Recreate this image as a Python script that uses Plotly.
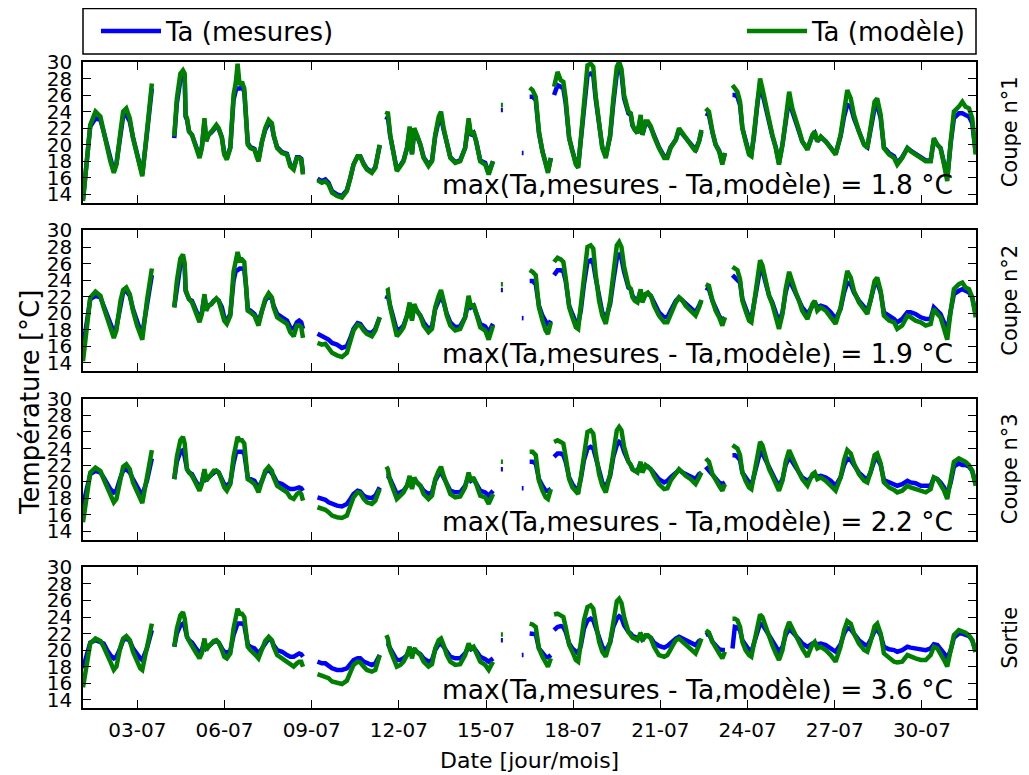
import pandas as pd
import plotly.graph_objects as go
from plotly.subplots import make_subplots

# ---------------- data ----------------
# time in days since 01-07 00:00 ; one sub-list per continuous data segment
jours = [
    [0.13, 0.29, 0.38, 0.56, 0.73, 0.84, 0.96, 1.07, 1.19, 1.28, 1.42, 1.51, 1.62, 1.74, 1.85, 1.99, 2.10, 2.17, 2.33, 2.50],
    [3.27, 3.36, 3.48, 3.57, 3.63, 3.66, 3.71, 3.78, 3.88, 4.00, 4.14, 4.22, 4.31, 4.37, 4.45, 4.55, 4.63, 4.72, 4.80, 4.91,
     4.99, 5.08, 5.20, 5.31, 5.39, 5.45, 5.52, 5.60, 5.68, 5.74, 5.80, 5.89, 6.03, 6.12, 6.17, 6.29, 6.40, 6.52, 6.63, 6.69,
     6.81, 6.98, 7.15, 7.26, 7.38, 7.49, 7.57, 7.64, 7.70],
    [8.20, 8.35, 8.47, 8.58, 8.70, 8.87, 9.04, 9.21, 9.33, 9.44, 9.58, 9.67, 9.79, 9.90, 10.07, 10.19, 10.34],
    [10.57, 10.62, 10.70, 10.82, 10.93, 11.05, 11.16, 11.28, 11.37, 11.45, 11.53, 11.62, 11.74, 11.85, 12.02, 12.14, 12.25,
     12.37, 12.45, 12.54, 12.65, 12.77, 12.94, 13.11, 13.28, 13.40, 13.48, 13.57, 13.66, 13.80, 13.97, 14.09, 14.24],
    [14.51, 14.58],
    [15.23, 15.29],
    [15.50, 15.60, 15.71, 15.82, 15.94, 16.05, 16.13, 16.23],
    [16.34, 16.46, 16.57, 16.66, 16.74, 16.86, 16.97, 17.09, 17.17, 17.26, 17.37, 17.49, 17.60, 17.69, 17.77, 17.89, 18.00,
     18.12, 18.27, 18.38, 18.50, 18.58, 18.66, 18.75, 18.84, 18.90, 18.98, 19.04, 19.12, 19.21, 19.32, 19.38, 19.49, 19.57,
     19.67, 19.78, 19.95, 20.13, 20.24, 20.35, 20.53, 20.64, 20.76, 20.87, 21.04, 21.21, 21.33, 21.41],
    [21.56, 21.67, 21.79, 21.90, 22.02, 22.13, 22.22],
    [22.48, 22.56, 22.65, 22.74, 22.82, 22.93, 23.05, 23.13, 23.22, 23.34, 23.43, 23.51, 23.62, 23.74, 23.85, 23.97, 24.08,
     24.20, 24.31, 24.43, 24.54, 24.66, 24.77, 24.88, 25.06, 25.23, 25.31, 25.40, 25.52, 25.69, 25.86, 26.03, 26.20, 26.32,
     26.43, 26.55, 26.66, 26.83, 27.01, 27.12, 27.23, 27.37, 27.46, 27.58, 27.69, 27.87, 28.04, 28.15, 28.32, 28.50, 28.61,
     28.78, 28.96, 29.13, 29.30, 29.41, 29.53, 29.64, 29.76, 29.87, 29.99, 30.10, 30.27, 30.39, 30.50, 30.62, 30.73, 30.85],
]

# ----- Coupe n°1 -----
mesures_c1 = [
    [13.4, 18.8, 22.2, 23.2, 23.0, 21.6, 19.8, 18.2, 16.8, 17.7, 21.4, 23.4, 23.6, 22.8, 20.9, 19.0, 17.2, 16.4, 21.3, 26.8],
    [20.8, 25.0, 27.8, 28.2, 28.0, 23.4, 23.0, 21.6, 21.2, 20.1, 18.6, 19.7, 22.8, 20.5, 21.2, 21.5, 21.9, 22.2, 21.9, 20.9,
     19.0, 18.4, 19.7, 25.4, 26.6, 26.8, 26.8, 27.0, 26.4, 23.8, 20.2, 19.7, 19.5, 18.6, 18.2, 20.4, 21.8, 22.6, 22.3, 21.1,
     19.7, 19.1, 18.9, 17.6, 17.2, 18.5, 18.5, 18.3, 16.6],
    [15.9, 15.6, 15.8, 15.4, 14.4, 14.0, 13.8, 14.5, 16.0, 17.6, 18.6, 18.6, 17.7, 17.1, 16.7, 17.3, 19.9],
    [23.0, 23.4, 21.1, 18.9, 17.0, 17.5, 18.1, 19.6, 21.8, 18.9, 21.6, 21.1, 20.0, 18.5, 17.6, 18.1, 21.0, 22.9, 23.3, 21.8,
     20.0, 18.5, 17.9, 18.1, 19.6, 22.7, 21.1, 21.4, 20.4, 18.1, 17.8, 16.6, 18.0],
    [24.2, 24.2],
    [19.0, 19.0],
    [25.8, 25.8, 25.4, 21.4, 19.2, 17.7, 16.8, 18.4],
    [26.0, 27.2, 27.0, 26.8, 25.0, 20.8, 19.3, 17.8, 17.4, 20.3, 24.6, 28.4, 28.6, 28.4, 25.6, 22.0, 19.7, 18.6, 21.0, 25.0,
     28.6, 29.0, 28.6, 25.6, 24.6, 23.8, 23.6, 22.3, 21.8, 21.4, 23.2, 21.2, 22.6, 22.6, 22.1, 21.0, 19.7, 18.6, 18.6, 19.7,
     20.6, 21.8, 21.3, 20.8, 20.1, 19.4, 20.4, 21.6],
    [23.8, 23.6, 21.5, 20.0, 19.3, 17.8, 19.0],
    [26.0, 26.0, 25.8, 24.8, 22.0, 20.5, 19.0, 18.8, 21.0, 25.0, 27.2, 26.2, 24.4, 22.6, 21.1, 19.7, 17.8, 20.0, 23.0, 25.6,
     24.0, 22.9, 21.6, 20.4, 19.5, 21.1, 21.4, 20.4, 20.9, 20.4, 19.7, 18.9, 21.0, 23.4, 24.8, 24.6, 23.2, 21.5, 20.0, 19.7,
     21.8, 24.4, 24.8, 23.2, 19.7, 19.0, 18.6, 17.8, 18.5, 19.6, 19.3, 18.9, 18.5, 18.1, 18.1, 20.6, 20.0, 19.6, 17.8, 16.0,
     20.2, 23.2, 23.8, 23.8, 23.6, 23.4, 22.6, 19.0],
]
modele_c1 = [
    [13.2, 18.8, 22.4, 24.0, 23.4, 21.6, 19.6, 18.0, 16.6, 17.6, 21.6, 24.0, 24.4, 23.2, 20.8, 18.8, 17.0, 16.2, 21.6, 27.4],
    [21.0, 25.6, 28.6, 29.0, 28.6, 23.6, 23.2, 21.6, 21.2, 20.0, 18.4, 19.6, 23.2, 20.4, 21.2, 21.6, 22.0, 22.4, 22.0, 20.8,
     18.8, 18.2, 19.6, 26.0, 27.6, 29.8, 27.2, 27.6, 26.8, 24.0, 20.0, 19.6, 19.4, 18.4, 18.0, 20.4, 22.0, 23.0, 22.6, 21.2,
     19.6, 19.0, 18.8, 17.4, 17.0, 18.4, 18.4, 18.2, 16.4],
    [15.7, 15.4, 15.6, 15.2, 14.2, 13.8, 13.6, 14.4, 16.0, 17.6, 18.6, 18.6, 17.6, 17.0, 16.6, 17.2, 20.0],
    [23.6, 24.0, 21.2, 18.8, 16.8, 17.4, 18.0, 19.6, 22.2, 18.8, 22.0, 21.2, 20.0, 18.4, 17.4, 18.0, 21.2, 23.4, 24.0, 22.0,
     20.0, 18.4, 17.8, 18.0, 19.6, 23.2, 21.2, 21.6, 20.4, 18.0, 17.6, 16.4, 18.0],
    [24.8, 24.8],
    [None, None],
    [26.9, 26.6, 25.8, 21.6, 19.2, 17.6, 16.6, 18.4],
    [27.0, 28.8, 27.8, 27.6, 25.6, 20.8, 19.2, 17.6, 17.2, 20.4, 25.2, 29.6, 29.8, 29.4, 26.0, 22.0, 19.6, 18.4, 21.2, 25.6,
     29.4, 30.0, 29.2, 26.0, 24.8, 24.0, 23.8, 22.4, 21.8, 21.4, 23.6, 21.2, 22.8, 22.8, 22.2, 21.0, 19.6, 18.4, 18.4, 19.6,
     20.6, 22.0, 21.4, 20.8, 20.0, 19.2, 20.4, 21.8],
    [24.4, 24.0, 21.6, 20.0, 19.2, 17.6, 19.0],
    [27.2, 26.8, 26.4, 25.2, 22.0, 20.4, 18.8, 18.6, 21.2, 25.6, 28.0, 26.8, 24.8, 22.8, 21.2, 19.6, 17.6, 20.0, 23.6, 26.4,
     24.4, 23.2, 21.8, 20.4, 19.4, 21.2, 21.6, 20.4, 21.0, 20.4, 19.6, 18.8, 21.2, 24.0, 26.6, 25.6, 23.6, 21.6, 20.0, 19.6,
     22.0, 25.2, 25.6, 23.6, 19.6, 18.8, 18.4, 17.6, 18.4, 19.6, 19.2, 18.8, 18.4, 18.0, 18.0, 20.8, 20.0, 19.6, 17.6, 15.6,
     20.4, 24.0, 24.6, 25.2, 24.6, 24.4, 23.2, 18.8],
]

# ----- Coupe n°2 -----
mesures_c2 = [
    [15.8, 19.1, 21.7, 22.1, 21.9, 20.9, 19.7, 18.5, 17.7, 18.3, 21.3, 22.5, 22.7, 22.1, 20.5, 18.9, 17.9, 17.5, 21.1, 24.6],
    [20.7, 23.3, 25.8, 26.2, 25.6, 22.7, 22.3, 21.7, 21.5, 20.5, 19.3, 20.1, 22.1, 20.5, 20.9, 21.1, 21.5, 21.7, 21.5, 20.7,
     19.5, 19.1, 19.9, 23.9, 25.2, 25.2, 25.4, 25.4, 25.2, 23.3, 20.5, 20.3, 19.9, 19.3, 18.9, 20.3, 21.5, 22.1, 21.7, 20.9,
     19.9, 19.5, 19.1, 18.3, 18.1, 18.9, 19.1, 18.9, 18.1],
    [17.5, 17.2, 17.1, 16.8, 16.4, 16.2, 15.8, 16.0, 17.0, 18.1, 18.8, 18.7, 18.1, 17.7, 17.6, 18.1, 19.5],
    [21.7, 22.1, 20.9, 19.3, 17.9, 18.1, 18.5, 19.7, 20.9, 19.3, 20.7, 20.3, 19.7, 18.9, 18.1, 18.4, 20.5, 21.5, 21.9, 21.3,
     19.9, 18.9, 18.3, 18.4, 19.5, 21.5, 20.7, 20.9, 20.1, 18.7, 18.4, 17.7, 18.7],
    [22.8, 22.8],
    [19.4, 19.4],
    [23.9, 23.9, 23.5, 20.9, 19.7, 18.9, 18.5, 19.1],
    [24.6, 25.2, 25.2, 25.0, 23.9, 20.9, 19.9, 18.9, 18.7, 20.3, 23.5, 26.2, 26.4, 26.0, 24.3, 21.7, 20.1, 19.3, 21.1, 23.9,
     26.6, 27.0, 26.6, 25.0, 23.7, 23.1, 22.9, 22.1, 21.7, 21.5, 22.7, 21.5, 22.3, 22.3, 22.1, 21.3, 20.1, 19.5, 19.5, 20.3,
     21.5, 21.9, 21.5, 21.1, 20.7, 20.1, 20.9, 21.5],
    [23.1, 22.9, 21.5, 20.5, 19.7, 19.1, 19.5],
    [24.6, 24.3, 24.1, 23.7, 21.7, 20.7, 19.5, 19.3, 20.9, 23.5, 25.4, 25.2, 23.7, 22.1, 21.3, 20.1, 18.9, 20.1, 22.5, 24.1,
     23.3, 22.5, 21.7, 20.7, 19.9, 20.9, 21.3, 20.7, 20.9, 20.7, 20.1, 19.3, 20.5, 22.5, 23.7, 23.5, 22.5, 21.5, 20.7, 20.3,
     21.5, 23.5, 23.7, 22.5, 20.1, 19.7, 19.3, 18.9, 19.3, 20.1, 20.1, 19.9, 19.5, 19.3, 19.3, 20.7, 20.3, 19.9, 18.9, 17.9,
     20.3, 22.3, 22.7, 22.9, 22.7, 22.5, 21.9, 19.9],
]
modele_c2 = [
    [14.2, 19.1, 21.9, 22.6, 22.1, 20.7, 19.5, 18.1, 17.0, 17.9, 21.5, 22.8, 23.1, 22.3, 20.3, 18.5, 17.2, 16.8, 21.5, 25.4],
    [20.7, 23.9, 26.6, 27.1, 26.0, 22.9, 22.3, 21.7, 21.3, 20.3, 18.9, 19.9, 22.3, 20.3, 20.9, 21.1, 21.5, 21.8, 21.5, 20.3,
     19.1, 18.7, 19.7, 25.0, 26.2, 27.4, 26.4, 26.5, 26.2, 23.5, 20.3, 20.1, 19.7, 18.9, 18.5, 20.3, 21.7, 22.4, 21.9, 20.7,
     19.5, 19.1, 18.7, 17.7, 17.2, 18.5, 18.5, 18.3, 17.0],
    [16.4, 16.2, 16.3, 15.8, 15.2, 14.9, 14.7, 15.2, 16.6, 17.9, 18.6, 18.5, 17.9, 17.5, 17.2, 17.9, 19.5],
    [22.7, 22.8, 20.7, 18.9, 17.2, 17.7, 18.3, 19.7, 21.3, 19.1, 21.1, 20.3, 19.7, 18.5, 17.7, 18.1, 20.7, 22.1, 22.8, 21.5,
     19.7, 18.5, 17.9, 18.1, 19.5, 22.1, 20.7, 21.1, 20.1, 18.3, 17.9, 16.8, 18.5],
    [23.5, 23.5],
    [None, None],
    [25.2, 25.0, 24.6, 20.7, 19.1, 17.9, 17.5, 18.9],
    [26.2, 26.7, 26.5, 26.2, 24.3, 20.7, 19.5, 18.3, 18.1, 20.7, 24.3, 28.0, 28.2, 27.8, 24.8, 21.5, 19.7, 18.7, 21.5, 24.8,
     28.2, 28.6, 28.0, 25.6, 23.9, 23.3, 22.9, 21.9, 21.5, 21.3, 22.9, 21.3, 22.3, 22.5, 22.1, 20.9, 19.7, 18.9, 18.9, 19.9,
     21.3, 21.9, 21.5, 20.9, 20.3, 19.7, 20.7, 21.6],
    [23.5, 23.3, 21.5, 20.3, 19.5, 18.5, 19.5],
    [25.6, 25.4, 25.2, 24.1, 21.5, 20.3, 19.1, 18.9, 21.1, 24.3, 26.4, 25.8, 23.9, 22.1, 21.1, 19.7, 18.1, 19.9, 22.9, 25.0,
     23.7, 22.5, 21.5, 20.3, 19.3, 21.1, 21.5, 20.3, 20.7, 20.3, 19.5, 18.7, 20.7, 23.1, 25.1, 24.3, 22.7, 21.3, 20.3, 19.9,
     21.5, 23.9, 24.3, 22.7, 19.7, 19.1, 18.9, 18.1, 18.5, 19.7, 19.5, 19.1, 18.9, 18.5, 18.7, 20.5, 19.9, 19.5, 18.1, 16.8,
     20.3, 22.9, 23.5, 23.7, 23.1, 22.9, 21.9, 19.5],
]

# ----- Coupe n°3 -----
mesures_c3 = [
    [17.1, 19.3, 20.9, 21.3, 21.1, 20.5, 19.7, 19.1, 18.7, 18.9, 20.5, 21.3, 21.5, 21.1, 20.3, 19.3, 18.7, 18.4, 20.1, 22.8],
    [20.3, 22.4, 23.6, 23.8, 23.0, 22.0, 21.5, 21.1, 20.9, 20.1, 19.3, 19.9, 21.3, 20.3, 20.5, 20.9, 21.1, 21.3, 21.1, 20.3,
     19.7, 19.5, 19.9, 22.2, 23.4, 23.6, 23.6, 23.6, 23.4, 22.2, 20.5, 20.3, 20.1, 19.5, 19.3, 20.1, 21.1, 21.5, 21.1, 20.7,
     19.9, 19.7, 19.3, 19.1, 19.1, 19.3, 19.3, 19.2, 18.9],
    [18.1, 17.9, 17.8, 17.5, 17.3, 17.1, 17.0, 17.3, 17.9, 18.5, 18.9, 18.8, 18.3, 18.1, 18.0, 18.3, 19.3],
    [20.7, 20.7, 20.3, 19.3, 18.5, 18.7, 18.9, 19.5, 20.3, 19.3, 20.3, 19.9, 19.5, 18.9, 18.5, 18.7, 20.1, 20.9, 21.1, 20.5,
     19.7, 18.9, 18.7, 18.7, 19.5, 20.7, 20.1, 20.3, 19.8, 18.9, 18.7, 18.3, 18.9],
    [21.5, 21.5],
    [19.2, 19.2],
    [22.4, 22.4, 22.2, 20.3, 19.5, 18.9, 18.9, 19.1],
    [23.0, 23.4, 23.4, 23.2, 22.4, 20.5, 19.7, 19.1, 19.0, 20.3, 22.6, 24.0, 24.2, 24.0, 23.0, 21.1, 19.9, 19.3, 20.7, 23.0,
     24.4, 24.8, 24.6, 23.6, 22.8, 22.4, 22.0, 21.5, 21.3, 21.3, 22.2, 21.3, 21.8, 21.8, 21.5, 21.0, 20.3, 19.9, 20.1, 20.5,
     21.1, 21.4, 21.1, 20.9, 20.7, 20.3, 20.9, 21.1],
    [21.8, 21.3, 20.9, 20.3, 19.9, 19.7, 19.9],
    [23.2, 23.2, 23.0, 22.6, 21.1, 20.5, 19.7, 19.5, 20.7, 22.6, 23.6, 23.4, 22.6, 21.5, 20.9, 20.1, 19.5, 20.3, 22.0, 23.0,
     22.4, 21.8, 21.1, 20.5, 20.1, 20.7, 20.9, 20.6, 20.7, 20.5, 20.1, 19.5, 20.5, 22.0, 22.8, 22.6, 22.0, 21.1, 20.5, 20.3,
     21.1, 22.6, 22.8, 22.0, 20.2, 19.9, 19.7, 19.5, 19.7, 20.1, 19.9, 19.8, 19.5, 19.5, 19.5, 20.5, 20.3, 19.9, 19.3, 18.5,
     19.9, 21.8, 22.2, 22.0, 22.0, 21.8, 21.3, 19.7],
]
modele_c3 = [
    [15.1, 19.3, 21.1, 21.7, 21.3, 20.3, 19.3, 18.3, 17.5, 17.9, 20.7, 21.8, 22.1, 21.5, 19.9, 18.7, 17.7, 17.4, 20.5, 23.8],
    [20.3, 23.0, 25.0, 25.4, 24.6, 22.4, 21.5, 21.1, 20.7, 19.9, 18.9, 19.7, 21.5, 20.1, 20.5, 20.9, 21.3, 21.3, 21.1, 20.1,
     19.3, 18.9, 19.7, 23.0, 24.4, 25.4, 25.0, 25.0, 24.6, 22.6, 20.3, 20.1, 19.7, 19.1, 18.7, 20.1, 21.3, 21.8, 21.3, 20.5,
     19.5, 19.1, 18.7, 18.1, 17.9, 18.5, 18.7, 18.5, 17.7],
    [16.9, 16.7, 16.6, 16.3, 15.9, 15.7, 15.6, 15.9, 17.1, 18.1, 18.7, 18.6, 17.9, 17.5, 17.3, 17.7, 19.1],
    [21.8, 21.5, 20.1, 18.9, 17.9, 18.3, 18.7, 19.5, 20.7, 19.1, 20.5, 19.9, 19.5, 18.5, 17.9, 18.3, 20.3, 21.3, 21.8, 20.7,
     19.5, 18.5, 18.1, 18.2, 19.3, 21.1, 20.1, 20.5, 19.7, 18.3, 18.1, 17.3, 18.5],
    [22.4, 22.4],
    [None, None],
    [23.6, 23.6, 23.2, 20.1, 18.9, 18.1, 17.9, 19.1],
    [24.8, 25.0, 24.8, 24.6, 23.0, 20.3, 19.3, 18.7, 18.5, 20.5, 23.6, 26.0, 26.2, 25.8, 23.6, 20.9, 19.5, 18.7, 20.9, 23.6,
     26.2, 26.6, 26.2, 24.2, 23.0, 22.4, 22.0, 21.5, 21.3, 21.1, 22.4, 21.1, 22.0, 21.8, 21.5, 20.7, 19.7, 19.1, 19.2, 20.1,
     21.1, 21.5, 21.1, 20.7, 20.3, 19.7, 20.5, 21.1],
    [22.8, 22.4, 20.9, 20.1, 19.5, 18.9, 19.7],
    [24.4, 24.2, 24.0, 23.2, 21.1, 20.1, 19.3, 19.1, 20.9, 23.4, 24.8, 24.4, 23.0, 21.5, 20.7, 19.7, 18.9, 20.1, 22.4, 23.8,
     22.8, 22.0, 21.1, 20.3, 19.5, 20.9, 21.1, 20.3, 20.5, 20.1, 19.5, 18.9, 20.5, 22.6, 23.8, 23.4, 22.2, 20.9, 20.1, 19.9,
     21.1, 23.2, 23.4, 22.2, 19.9, 19.3, 19.0, 18.7, 18.9, 19.5, 19.3, 19.1, 18.9, 18.7, 19.1, 20.5, 20.3, 19.7, 18.9, 17.9,
     20.1, 22.4, 22.8, 22.6, 22.4, 22.0, 21.3, 19.5],
]

# ----- Sortie -----
mesures_s = [
    [17.8, 19.8, 20.9, 21.2, 20.9, 20.8, 20.0, 19.4, 19.0, 19.2, 20.3, 21.2, 21.4, 21.1, 20.2, 19.4, 19.0, 18.8, 20.2, 22.4],
    [20.4, 22.0, 23.0, 23.2, 22.8, 22.0, 21.6, 21.2, 20.9, 20.3, 19.7, 20.0, 21.1, 20.2, 20.5, 20.8, 21.0, 21.1, 20.9, 20.2,
     19.8, 19.7, 19.9, 21.8, 22.8, 23.2, 23.2, 23.2, 23.0, 22.0, 20.7, 20.4, 20.2, 19.8, 19.6, 20.2, 20.9, 21.4, 21.1, 20.6,
     20.0, 19.8, 19.4, 19.2, 19.2, 19.4, 19.6, 19.5, 19.2],
    [18.6, 18.4, 18.4, 18.1, 17.8, 17.6, 17.6, 17.8, 18.4, 18.8, 19.0, 19.0, 18.6, 18.4, 18.2, 18.4, 19.4],
    [20.8, 20.8, 20.2, 19.4, 18.8, 18.8, 19.0, 19.4, 20.2, 19.4, 20.0, 19.8, 19.5, 19.0, 18.6, 18.8, 20.0, 20.7, 20.8, 20.4,
     19.8, 19.2, 19.0, 19.0, 19.6, 20.4, 20.1, 20.3, 19.9, 19.2, 18.9, 18.6, 19.0],
    [21.2, 21.2],
    [19.4, 19.4],
    [22.0, 22.0, 21.9, 20.2, 19.6, 19.2, 19.1, 19.4],
    [22.4, 22.8, 22.9, 22.8, 22.2, 20.8, 20.2, 19.8, 19.6, 20.5, 22.6, 23.6, 23.8, 23.6, 22.8, 21.2, 20.4, 19.9, 20.9, 22.8,
     23.8, 24.1, 23.9, 23.0, 22.5, 22.2, 22.0, 21.7, 21.6, 21.4, 21.8, 21.3, 21.7, 21.7, 21.5, 20.9, 20.5, 20.3, 20.5, 20.9,
     21.4, 21.6, 21.4, 21.1, 20.8, 20.6, 21.1, 21.2],
    [21.8, 22.0, 21.0, 20.5, 20.1, 20.0, 20.0],
    [20.2, 22.8, 22.7, 22.4, 21.2, 20.5, 20.0, 19.8, 20.8, 22.4, 23.2, 23.1, 22.5, 21.6, 21.0, 20.4, 19.8, 20.4, 21.8, 22.6,
     22.2, 21.8, 21.3, 20.8, 20.4, 20.8, 20.9, 20.7, 20.8, 20.6, 20.2, 19.8, 20.7, 22.0, 22.7, 22.5, 22.0, 21.2, 20.7, 20.5,
     21.2, 22.3, 22.5, 21.8, 20.4, 20.1, 20.0, 19.8, 20.0, 20.4, 20.3, 20.2, 20.0, 20.0, 20.2, 20.7, 20.6, 20.2, 19.6, 19.0,
     20.0, 21.5, 22.0, 22.0, 21.9, 21.7, 21.2, 19.8],
]
modele_s = [
    [15.5, 19.4, 20.8, 21.4, 21.1, 20.4, 19.6, 18.6, 17.6, 18.0, 20.4, 21.4, 21.7, 21.2, 19.8, 18.6, 17.8, 17.6, 20.2, 23.2],
    [20.4, 22.6, 24.2, 24.6, 23.8, 22.2, 21.6, 21.1, 20.6, 19.8, 19.0, 19.6, 21.4, 20.0, 20.4, 20.8, 21.1, 21.2, 20.9, 20.0,
     19.2, 19.0, 19.6, 22.6, 23.8, 25.0, 24.4, 24.4, 24.0, 22.2, 20.4, 20.0, 19.6, 19.2, 19.0, 20.0, 21.1, 21.6, 21.2, 20.4,
     19.4, 19.0, 18.6, 18.2, 18.0, 18.4, 18.6, 18.6, 18.0],
    [17.1, 16.9, 16.8, 16.6, 16.2, 16.0, 15.9, 16.3, 17.4, 18.2, 18.6, 18.5, 18.0, 17.6, 17.4, 17.6, 19.4],
    [21.8, 21.4, 20.0, 18.8, 18.0, 18.2, 18.6, 19.4, 20.4, 19.0, 20.2, 19.8, 19.4, 18.6, 18.0, 18.3, 20.2, 21.2, 21.4, 20.6,
     19.4, 18.6, 18.2, 18.3, 19.4, 20.8, 20.2, 20.4, 19.8, 18.6, 18.2, 17.6, 18.6],
    [21.9, 21.9],
    [None, None],
    [23.2, 23.1, 22.8, 20.2, 19.2, 18.4, 18.0, 19.0],
    [24.3, 24.4, 24.2, 24.0, 22.8, 20.6, 19.8, 18.8, 18.6, 20.6, 23.6, 25.2, 25.4, 25.0, 23.4, 21.0, 19.8, 19.2, 21.0, 23.6,
     25.9, 26.2, 25.7, 24.0, 22.8, 22.2, 21.8, 21.5, 21.4, 21.2, 22.1, 21.1, 21.8, 21.8, 21.4, 20.4, 19.4, 19.2, 19.4, 20.2,
     21.2, 21.4, 21.0, 20.6, 20.0, 19.6, 20.6, 21.4],
    [22.4, 22.1, 21.0, 20.2, 19.6, 19.0, 19.8],
    [23.8, 23.8, 23.6, 22.8, 21.0, 20.0, 19.4, 19.2, 20.8, 23.2, 24.3, 24.0, 22.8, 21.5, 20.6, 19.6, 18.8, 20.0, 22.2, 23.4,
     22.6, 21.8, 21.1, 20.2, 19.2, 20.7, 21.0, 20.2, 20.4, 20.0, 19.4, 18.6, 20.4, 22.4, 23.5, 23.2, 22.0, 20.8, 20.0, 19.8,
     21.0, 22.9, 23.2, 22.0, 19.6, 19.0, 18.6, 18.5, 18.6, 19.4, 19.2, 19.0, 18.8, 18.8, 19.4, 20.4, 20.2, 19.6, 18.8, 18.0,
     20.0, 21.8, 22.4, 22.3, 22.1, 21.8, 21.2, 19.8],
]

panneaux = ["Coupe n°1", "Coupe n°2", "Coupe n°3", "Sortie"]
ecarts_max = [1.8, 1.9, 2.2, 3.6]
y_ticks = [14, 16, 18, 20, 22, 24, 26, 28, 30]
x_ticks_jours = [2, 5, 8, 11, 14, 17, 20, 23, 26, 29]

# ---------------- helpers ----------------
BASE = pd.Timestamp("2015-07-01")


def to_dates(days):
    return [BASE + pd.Timedelta(days=d) for d in days]


def flatten(segments, is_time=False):
    out = []
    for k, seg in enumerate(segments):
        if k > 0:
            out.append(segments[k - 1][-1] if is_time else None)
        out.extend(seg)
    return out


for name, s in [("mesures_c1", mesures_c1), ("modele_c1", modele_c1), ("mesures_c2", mesures_c2),
                ("modele_c2", modele_c2), ("mesures_c3", mesures_c3), ("modele_c3", modele_c3),
                ("mesures_s", mesures_s), ("modele_s", modele_s)]:
    for k, seg in enumerate(s):
        assert len(seg) == len(jours[k]), f"{name} segment {k}: {len(seg)} vs {len(jours[k])}"

x_vals = to_dates(flatten(jours, is_time=True))
series = [(mesures_c1, modele_c1), (mesures_c2, modele_c2), (mesures_c3, modele_c3), (mesures_s, modele_s)]

FONT = "DejaVu Sans"
BLUE = "#0000ff"
GREEN = "#008000"

fig = make_subplots(rows=4, cols=1, shared_xaxes=True)

for i, (mes, mod) in enumerate(series):
    fig.add_trace(go.Scatter(x=x_vals, y=flatten(mes), mode="lines", name="Ta (mesures)",
                             line=dict(color=BLUE, width=4.5), legend="legend", legendgroup="mes",
                             showlegend=(i == 0), connectgaps=False), row=i + 1, col=1)
    fig.add_trace(go.Scatter(x=x_vals, y=flatten(mod), mode="lines", name="Ta (modèle)",
                             line=dict(color=GREEN, width=4.5), legend="legend2", legendgroup="mod",
                             showlegend=(i == 0), connectgaps=False), row=i + 1, col=1)

# page offset of the figure inside the browser (default body margin)
OFF = 8
W, H = 1029 - OFF, 775 - OFF
L, R, T, B = 75, 53, 54, 67
pw, ph = W - L - R, H - T - B


def px_x(xs):
    """screen pixel x -> paper x"""
    return (xs - OFF - L) / pw


def px_y(ys):
    """screen pixel y -> paper y"""
    return (H - B - (ys - OFF)) / ph


domains = [[0.7823, 1.0], [0.5216, 0.7392], [0.2608, 0.4785], [0.0, 0.2177]]
x_range = [BASE + pd.Timedelta(days=jours[0][0]), BASE + pd.Timedelta(days=jours[-1][-1] + 0.01)]

for i in range(4):
    fig.update_yaxes(domain=domains[i], range=[13, 30], tickvals=y_ticks, ticks="inside", ticklen=8,
                     tickwidth=1, tickcolor="black", showline=True, linecolor="black", linewidth=1.5,
                     mirror="allticks", showgrid=False, zeroline=False, ticklabelstandoff=5,
                     tickfont=dict(family=FONT, size=20, color="black"), row=i + 1, col=1)
    fig.update_xaxes(range=x_range, tickvals=to_dates(x_ticks_jours), tickformat="%d-%m", ticks="inside",
                     ticklen=8, tickwidth=1, tickcolor="black", showline=True, linecolor="black",
                     linewidth=1.5, mirror="allticks", showgrid=False, zeroline=False,
                     ticklabelstandoff=3,
                     showticklabels=(i == 3), tickfont=dict(family=FONT, size=20, color="black"),
                     row=i + 1, col=1)

annotations = []
for i in range(4):
    ax = "" if i == 0 else str(i + 1)
    annotations.append(dict(
        text=f"max(Ta,mesures - Ta,modèle) = {ecarts_max[i]} °C",
        xref=f"x{ax} domain", yref=f"y{ax} domain", x=0.9765, y=0.128,
        xanchor="right", yanchor="middle", showarrow=False,
        font=dict(family=FONT, size=26.5, color="black")))
    annotations.append(dict(
        text=panneaux[i], xref="paper", yref=f"y{ax} domain", x=px_x(1010), y=0.5,
        xanchor="center", yanchor="middle", textangle=-90, showarrow=False,
        font=dict(family=FONT, size=21, color="black")))

annotations.append(dict(text="Température [°C]", xref="paper", yref="paper",
                        x=px_x(30), y=px_y(403), xanchor="center", yanchor="middle",
                        textangle=-90, showarrow=False, font=dict(family=FONT, size=26, color="black")))
annotations.append(dict(text="Date [jour/mois]", xref="paper", yref="paper",
                        x=0.5, y=px_y(760), xanchor="center", yanchor="middle",
                        showarrow=False, font=dict(family=FONT, size=22, color="black")))

legend_box = dict(type="rect", xref="paper", yref="paper", x0=0, x1=1,
                  y0=px_y(54), y1=px_y(8.5),
                  line=dict(color="black", width=1.5), fillcolor="rgba(0,0,0,0)")

legend_common = dict(orientation="h", xanchor="left", y=px_y(31), yanchor="middle",
                     itemwidth=60, font=dict(family=FONT, size=26, color="black"),
                     bgcolor="rgba(0,0,0,0)", borderwidth=0)

fig.update_layout(
    width=W, height=H, margin=dict(l=L, r=R, t=T, b=B, autoexpand=False),
    paper_bgcolor="white", plot_bgcolor="white",
    font=dict(family=FONT, size=20, color="black"),
    annotations=annotations, shapes=[legend_box],
    legend=dict(x=px_x(96), **legend_common),
    legend2=dict(x=px_x(742), **legend_common),
)

fig.write_html("out.html")
